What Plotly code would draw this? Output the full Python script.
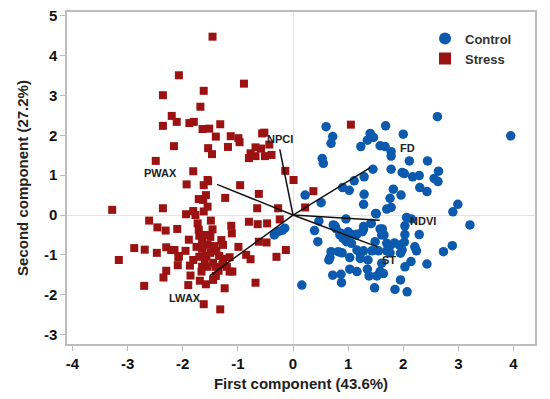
import plotly.graph_objects as go

stress_pts = [
    (-1.46,4.48),(-2.07,3.51),(-0.89,3.30),(-2.36,3.01),(-1.62,3.12),(-1.68,2.72),(-2.20,2.49),(-2.11,2.34),
    (-2.36,2.24),(-1.88,2.31),(-1.80,2.34),(-1.64,2.16),(-1.52,2.17),(-1.32,2.28),(-1.40,1.97),(-1.13,1.98),
    (-0.99,1.93),(-0.97,1.83),(-0.56,2.05),(-0.52,2.07),(-2.16,1.73),(-1.54,1.68),(-1.18,1.71),(-1.47,1.53),
    (-0.68,1.70),(-0.58,1.67),(-0.43,1.77),(-0.77,1.55),(-0.80,1.43),(-0.68,1.48),(-0.51,1.48),(-0.39,1.51),
    (-2.49,1.36),(-1.81,1.10),(-0.14,1.11),(0.01,0.88),(-1.55,0.88),(1.05,2.27),(0.37,0.60),(0.22,0.19),
    (-1.93,0.77),(-3.28,0.13),(-2.36,0.17),(-2.61,-0.14),(-2.46,-0.31),(-2.31,-0.39),(-2.10,-0.35),(-1.94,0.02),
    (-1.81,0.10),(-1.71,0.40),(-1.89,-0.62),(-2.88,-0.83),(-2.69,-0.87),(-2.47,-0.95),(-2.30,-0.81),(-2.21,-0.88),
    (-2.07,-1.03),(-1.95,-0.90),(-3.16,-1.13),(-2.70,-1.78),(-2.30,-1.40),(-2.35,-1.57),(-2.08,-1.06),(-2.09,-1.26),
    (-1.90,-1.76),(-1.87,-1.27),(-1.86,-1.52),(-1.81,-1.13),(-1.77,0.00),(-1.73,-0.21),(-1.71,-0.37),
    (-1.70,-0.52),(-1.62,0.75),(-1.54,0.85),(-1.58,0.50),(-1.63,0.38),(-1.55,0.21),(-1.62,0.09),(-1.49,-0.14),
    (-1.46,-0.36),(-1.59,-0.50),(-1.57,-1.03),(-1.66,-1.42),(-1.69,-1.65),(-1.58,-1.74),(-1.45,-1.63),(-1.62,-2.24),
    (-1.32,-2.37),(-1.24,-1.84),(-1.40,-1.53),(-1.30,-0.63),(-1.27,-0.75),(-1.39,-0.90),(-1.34,-1.03),(-1.27,-1.10),
    (-1.15,-1.06),(-1.23,0.43),(-1.12,-0.27),(-1.11,-0.46),(-0.96,0.75),(-0.99,-0.80),(-0.85,-1.00),(-0.77,-1.11),
    (-0.80,-0.17),(-0.65,0.17),(-0.68,-1.70),(-0.62,0.53),(-0.64,-0.23),(-0.62,-0.67),(-0.48,-0.69),(-0.47,-0.21),
    (-0.30,-1.05),(-0.27,0.17),(-0.24,-0.11),(-0.13,-0.88),(-1.15,-1.42),(-1.10,-1.42),(-2.15,-0.88),
    (-1.65,-0.65),(-1.55,-0.75),(-1.65,-0.85),(-1.50,-0.95),(-1.60,-1.15),(-1.45,-1.20),(-1.55,-1.30),(-1.40,-1.30),
    (-1.70,-1.05),(-1.50,-0.55),(-1.42,-0.78),(-1.75,-0.80),(-1.35,-1.40),(-1.28,-1.25),(-1.20,-1.30),(-1.65,-1.30),
]
control_pts = [
    (2.62,2.47),(3.95,1.99),(0.60,2.22),(1.68,2.24),(2.00,2.03),(0.72,1.97),(0.69,1.80),(1.23,1.72),
    (1.40,2.05),(1.35,1.88),(1.46,1.95),(1.58,1.74),(1.67,1.72),(1.78,1.59),(1.78,1.48),(0.53,1.42),(0.55,1.30),
    (2.11,1.36),(2.44,1.36),(1.45,1.15),(1.78,1.15),(1.98,1.07),(2.02,1.04),(2.17,0.96),(2.29,0.99),(2.64,1.10),
    (2.56,0.92),(2.63,0.84),(1.29,0.96),(1.11,0.86),(0.90,0.69),(1.02,0.62),(1.82,0.65),(1.96,0.50),(2.30,0.69),
    (2.43,0.59),(0.22,0.50),(1.29,0.52),(1.76,0.42),(0.51,0.31),(1.28,0.27),(1.70,0.15),(1.78,0.19),(2.99,0.27),
    (2.90,0.08),(1.50,0.04),(2.06,-0.06),(2.15,-0.10),(0.96,-0.10),(0.47,-0.15),(1.41,-0.21),(3.21,-0.25),
    (2.03,-0.27),(0.73,-0.25),(0.78,-0.34),(1.28,-0.29),(1.26,-0.42),(1.62,-0.35),(0.39,-0.39),(1.00,-0.42),
    (1.05,-0.48),(0.87,-0.46),(0.91,-0.54),(1.16,-0.48),(1.61,-0.50),(2.03,-0.49),(2.29,-0.49),(0.45,-0.67),
    (0.97,-0.67),(1.06,-0.71),(1.49,-0.67),(1.70,-0.71),(1.76,-0.77),(1.84,-0.70),(1.93,-0.75),(2.02,-0.68),
    (2.21,-0.80),(2.24,-0.90),(2.89,-0.77),(2.73,-0.92),(0.69,-0.92),(0.82,-0.92),(0.89,-0.95),(1.16,-0.88),
    (1.22,-0.96),(1.28,-0.90),(1.43,-0.90),(1.55,-0.90),(1.70,-0.90),(1.76,-0.95),(1.95,-0.96),(1.98,-0.88),
    (0.65,-1.13),(0.67,-1.07),(1.03,-1.07),(1.22,-1.09),(1.36,-1.13),(1.61,-1.21),(2.14,-1.17),(2.43,-1.23),
    (2.03,-1.30),(1.03,-1.36),(1.16,-1.42),(1.35,-1.36),(1.58,-1.42),(1.64,-1.47),(0.72,-1.51),(0.87,-1.49),
    (1.38,-1.53),(1.52,-1.53),(0.88,-1.70),(1.95,-1.63),(0.16,-1.76),(1.48,-1.83),(1.85,-1.87),(2.07,-1.93),
    (-0.34,-0.50),(-0.27,-0.42),(-0.19,-0.38),(-0.15,-0.33),(0.76,-0.27),(0.85,-0.50),(0.91,-0.59),(1.14,-0.50),
    (1.28,-0.36),(1.42,-0.21),(1.51,0.03),(1.58,-0.35),(1.65,-0.50),
]
stress_x = [p[0] for p in stress_pts]
stress_y = [p[1] for p in stress_pts]
control_x = [p[0] for p in control_pts]
control_y = [p[1] for p in control_pts]

var_names = ["NPCI", "PWAX", "LWAX", "FD", "NDVI", "ST"]
load_x = [-0.24, -1.38, -1.51, 1.40, 1.57, 1.53]
load_y = [1.65, 0.77, -1.53, 1.19, -0.13, -0.80]
label_x = [-0.24, -2.41, -1.96, 2.07, 2.36, 1.74]
label_y = [1.90, 1.05, -2.08, 1.68, -0.15, -1.13]

x_ticks = [-4, -3, -2, -1, 0, 1, 2, 3, 4]
y_ticks = [-3, -2, -1, 0, 1, 2, 3, 4, 5]

BLUE = "#0b5aad"
RED = "#9b1212"
FONT = "Liberation Sans, Arial, sans-serif"

fig = go.Figure()
fig.add_trace(go.Scatter(x=control_x, y=control_y, mode="markers", name="Control",
                         marker=dict(symbol="circle", size=9.5, color=BLUE)))
fig.add_trace(go.Scatter(x=stress_x, y=stress_y, mode="markers", name="Stress",
                         marker=dict(symbol="square", size=8, color=RED)))
for lx, ly in zip(load_x, load_y):
    fig.add_trace(go.Scatter(x=[0, lx], y=[0, ly], mode="lines", showlegend=False,
                             line=dict(color="#111111", width=1.5), hoverinfo="skip"))
for name, tx, ty in zip(var_names, label_x, label_y):
    fig.add_annotation(x=tx, y=ty, text="<b>%s</b>" % name, showarrow=False,
                       font=dict(family=FONT, size=11, color="#222222"))

axis_common = dict(showgrid=False, zeroline=True, zerolinecolor="#e4e4e4", zerolinewidth=1,
                   showline=True, linecolor="#bdbdbd", linewidth=1.5, mirror=True,
                   ticks="outside", ticklen=5, tickcolor="#bdbdbd", automargin=False,
                   ticklabeloverflow="allow",
                   tickfont=dict(family=FONT, size=15, color="#111111", weight="bold"))
fig.update_xaxes(range=[-4.1, 4.39], tickvals=x_ticks, ticktext=[str(v) for v in x_ticks],
                 title=dict(text="<b>First component (43.6%)</b>", font=dict(family=FONT, size=15, color="#222222"), standoff=8),
                 **axis_common)
fig.update_yaxes(range=[-3.24, 5.1], tickvals=y_ticks, ticktext=[str(v) for v in y_ticks],
                 title=dict(text="<b>Second component (27.2%)</b>", font=dict(family=FONT, size=15, color="#222222"), standoff=12),
                 **axis_common)
fig.update_layout(
    width=542, height=391,
    margin=dict(l=59, r=15, t=4, b=55),
    plot_bgcolor="white", paper_bgcolor="white",
    showlegend=True,
    legend=dict(x=0.765, y=0.965, xanchor="left", yanchor="top", bgcolor="rgba(0,0,0,0)",
                font=dict(family=FONT, size=13, color="#333333", weight="bold"),
                itemsizing="constant", tracegroupgap=0),
)
fig.write_html("out.html")
